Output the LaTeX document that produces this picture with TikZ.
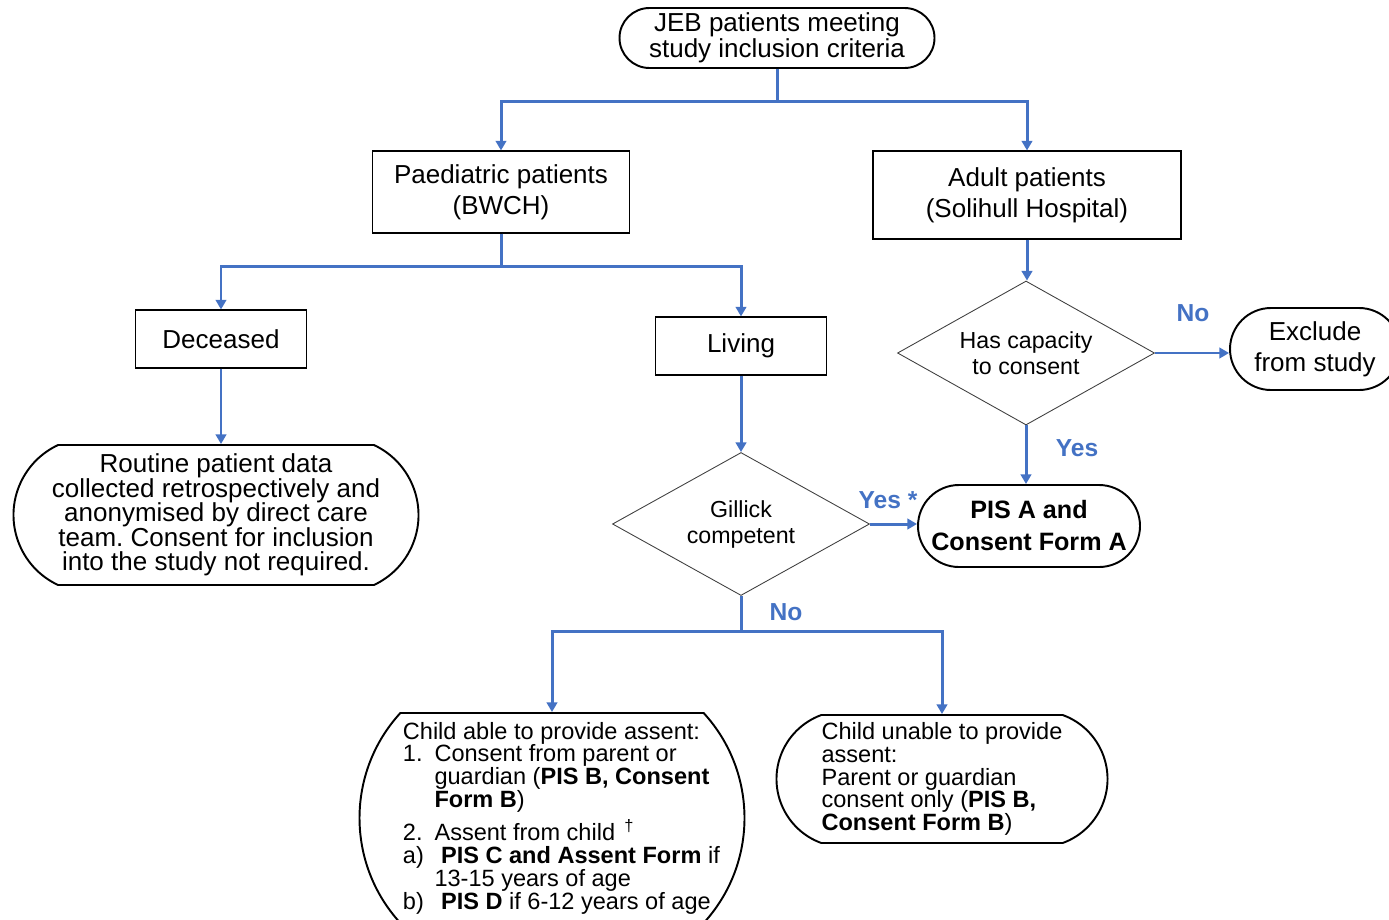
\documentclass[tikz,border=0pt]{standalone}
\usepackage{fontspec}
\setmainfont{Liberation Sans}
\usetikzlibrary{arrows.meta,shapes.geometric,shapes.misc}
\definecolor{linkblue}{RGB}{68,114,196}
\frenchspacing

\begin{document}
\begin{tikzpicture}[x=0.2mm, y=-0.2mm, >={Triangle[length=5.5pt,width=6pt]},
  link/.style={draw=linkblue, line width=1.7pt, ->},
  box/.style={draw, line width=0.6pt, align=center, inner sep=0pt, font=\fontsize{14.8}{17.6}\selectfont},
  term/.style={draw, rounded rectangle, line width=1.1pt, inner sep=0pt},
  decision/.style={draw=black!75, diamond, aspect=1.785, line width=0.5pt, inner sep=0pt, align=center, font=\fontsize{13.2}{14.8}\selectfont},
  lbl/.style={text=linkblue, font=\fontsize{14}{16}\selectfont\bfseries}]
	\useasboundingbox (0,0) rectangle (1389,919);
	\node[term, minimum width=63mm, minimum height=12mm, align=center, font=\fontsize{14.8}{13.7}\selectfont] (jeb) at (777,38) {JEB patients meeting\\study inclusion criteria};
	\node[box, minimum width=51.4mm, minimum height=16.4mm] (paed) at (501,192) {Paediatric patients\\(BWCH)};
	\node[box, minimum width=61.6mm, minimum height=17.6mm] (adult) at (1027,195) {Adult patients\\(Solihull Hospital)};
	\node[box, minimum width=34.2mm, minimum height=11.6mm] (deceased) at (221,339) {Deceased};
	\node[box, minimum width=34.2mm, minimum height=11.6mm] (living) at (741,346) {Living};
	\node[term, rounded rectangle arc length=130, minimum width=81mm, minimum height=28mm, align=center, font=\fontsize{14.8}{14}\selectfont] (routine) at (216,515) {Routine patient data\\collected retrospectively and\\anonymised by direct care\\team. Consent for inclusion\\into the study not required.};
	\node[decision, minimum width=51.4mm, minimum height=28.8mm] (capacity) at (1026,353) {Has capacity\\to consent};
	\node[term, minimum width=34mm, minimum height=16.4mm, align=center, font=\fontsize{14.8}{17.6}\selectfont] (exclude) at (1315,349) {Exclude\\from study};
	\node[term, minimum width=44.4mm, minimum height=16.4mm, align=center, font=\fontsize{14.3}{18.2}\selectfont\bfseries] (pisA) at (1029,526) {PIS A and\\Consent Form A};
	\node[decision, minimum width=51.4mm, minimum height=28.6mm] (gillick) at (741,524) {Gillick\\competent};
	\node[term, rounded rectangle arc length=85, minimum width=77mm, minimum height=42mm, font=\fontsize{13.4}{13}\selectfont] (able) at (552,818) {\hspace*{5.5pt}\parbox{63.5mm}{\raggedright Child able to provide assent:\\
		\makebox[18pt][l]{1.}Consent from parent or\\
		\hspace*{18pt}guardian (\textbf{PIS B, Consent}\\
		\hspace*{18pt}\textbf{Form B})\\[3pt]
		\makebox[18pt][l]{2.}Assent from child \textsuperscript{\,\textdagger}\\
		\makebox[18pt][l]{a)} \textbf{PIS C and Assent Form} if\\
		\hspace*{18pt}13-15 years of age\\
		\makebox[18pt][l]{b)} \textbf{PIS D} if 6-12 years of age}\hspace*{-5.5pt}};
	\node[term, rounded rectangle arc length=140, minimum width=66.2mm, minimum height=25.6mm, align=left, font=\fontsize{13.4}{13}\selectfont] (unable) at (942,779) {Child unable to provide\\assent:\\Parent or guardian\\consent only (\textbf{PIS B,}\\\textbf{Consent Form B})};
	\node[lbl] (no1) at (1193,313) {No};
	\node[lbl] (yes1) at (1077,448) {Yes};
	\node[lbl] (yes2) at (888,500) {Yes *};
	\node[lbl] (no2) at (786,612) {No};
	\draw[link] (jeb.south) -- ++(0,33) -| (paed.north);
	\draw[link] (jeb.south) -- ++(0,33) -| (adult.north);
	\draw[link] (paed.south) -- ++(0,33) -| (deceased.north);
	\draw[link] (paed.south) -- ++(0,33) -| (living.north);
	\draw[link] (deceased.south) -- (deceased.south |- routine.north);
	\draw[link] (living.south) -- (gillick.north);
	\draw[link] (adult.south) -- (adult.south |- capacity.north);
	\draw[link] (capacity.east) -- (capacity.east -| exclude.west);
	\draw[link] (capacity.south) -- (capacity.south |- pisA.north);
	\draw[link] (gillick.east) -- (gillick.east -| pisA.west);
	\draw[link] (gillick.south) -- ++(0,36) -| (able.north);
	\draw[link] (gillick.south) -- ++(0,36) -| (unable.north);
\end{tikzpicture}
\end{document}
